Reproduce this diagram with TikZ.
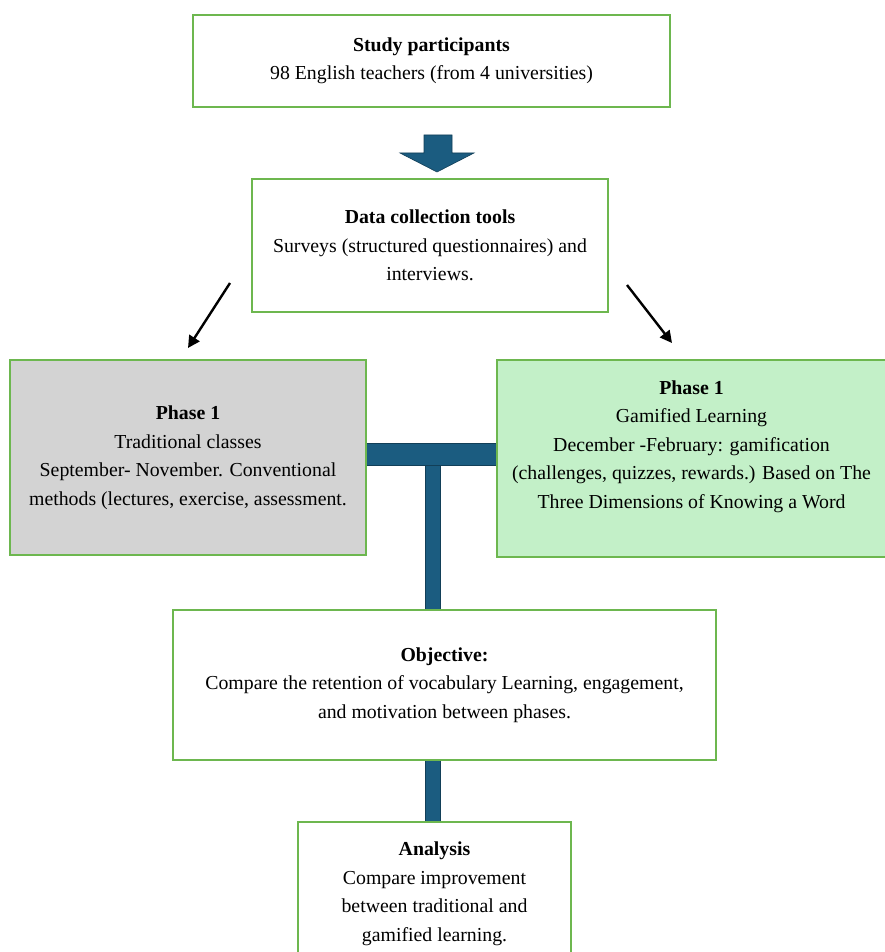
\documentclass[tikz,border=0pt]{standalone}
\usepackage{fontspec}
\setmainfont{Liberation Serif}
\usetikzlibrary{arrows.meta}
\definecolor{boxgreen}{HTML}{6DB74F}
\definecolor{lgreen}{HTML}{C3F0C8}
\definecolor{lgray}{HTML}{D3D3D3}
\definecolor{tblue}{HTML}{1B5C80}
\definecolor{tdark}{HTML}{123F58}
\tikzset{
  stagebox/.style={draw=boxgreen, line width=2.2pt, align=center, inner sep=0pt,
    font=\fontsize{19.8}{28.5}\selectfont},
  thinarrow/.style={draw=black, line width=2.4pt, -{Triangle[length=12pt,width=12pt]}},
  barshape/.style={fill=tblue, draw=tdark, line width=0.8pt}
}
\begin{document}
\begin{tikzpicture}[x=1pt,y=-1pt]
\useasboundingbox (0,0) rectangle (885,952);
\fill[white] (0,0) rectangle (885,952);

% connectors (behind boxes)
\fill[barshape] (366,443) rectangle (497,465);
\fill[barshape] (425,465) rectangle (440,611);
\fill[barshape] (425,759) rectangle (440,823);

\node[stagebox, minimum width=477pt, minimum height=92pt] (top) at (431.5,61)
  {\textbf{Study participants}\\98 English teachers (from 4 universities)};

\node[stagebox, minimum width=356pt, minimum height=133pt] (data) at (430,245.5)
  {\textbf{Data collection tools}\\Surveys (structured questionnaires) and\\interviews.};

\node[stagebox, fill=lgray, minimum width=356pt, minimum height=195pt] (lp) at (188,457.5)
  {\textbf{Phase 1}\\Traditional classes\\September- November. Conventional\\methods (lectures, exercise, assessment.};

\node[stagebox, fill=lgreen, minimum width=389pt, minimum height=197pt] (rp) at (691.5,458.5)
  {\textbf{Phase 1}\\Gamified Learning\\December -February: gamification\\(challenges, quizzes, rewards.) Based on The\\Three Dimensions of Knowing a Word\\\mbox{}};

\node[stagebox, fill=white, minimum width=543pt, minimum height=150pt] (obj) at (444.5,685)
  {\textbf{Objective:}\\Compare the retention of vocabulary Learning, engagement,\\and motivation between phases.};

\node[stagebox, fill=white, minimum width=273pt, minimum height=144pt] (ana) at (434.5,894)
  {\textbf{Analysis}\\Compare improvement\\between traditional and\\gamified learning.};

% block arrow between top and data
\filldraw[fill=tblue, draw=tdark, line width=0.6pt]
  (424,135) -- (452,135) -- (452,153) -- (474,153) -- (437,172) -- (400,153) -- (424,153) -- cycle;

% diagonal arrows
\coordinate (la) at (230,283);
\coordinate (lb) at (188,348);
\coordinate (ra) at (627,285);
\coordinate (rb) at (672,343);
\draw[thinarrow] (la) -- (lb);
\draw[thinarrow] (ra) -- (rb);
\end{tikzpicture}
\end{document}
